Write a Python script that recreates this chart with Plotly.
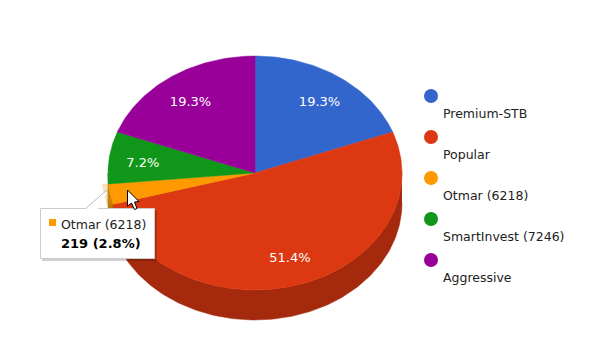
import numpy as np
import plotly.graph_objects as go

categories = ["Premium-STB", "Popular", "Otmar (6218)", "SmartInvest (7246)", "Aggressive"]
values = [1510, 4020, 219, 563, 1509]
colors = ["#3366cc", "#dc3912", "#ff9900", "#109618", "#990099"]
side_colors = ["#264d99", "#a52a0d", "#bf7300", "#0c7012", "#730073"]
percent_labels = ["19.3%", "51.4%", "", "7.2%", "19.3%"]
tooltip_name = "Otmar (6218)"
tooltip_value = "219 (2.8%)"

CX, CY, RX, RY, DEPTH = 255.0, 173.0, 147.0, 117.0, 30.0
LEGEND_X, LEGEND_TEXT_X, LEGEND_TOP, LEGEND_STEP = 431.0, 443.0, 96.0, 41.0
FONT = "DejaVu Sans"


def arc(a0, a1, rx=RX, ry=RY, dy=0.0):
    n = max(2, int(abs(a1 - a0) * 60) + 2)
    t = np.linspace(a0, a1, n)
    return CX + rx * np.sin(t), CY + dy - ry * np.cos(t)


def add_poly(fig, xs, ys, color):
    fig.add_trace(go.Scatter(x=xs, y=ys, mode="lines", fill="toself", fillcolor=color,
                             line=dict(color=color, width=0.5), hoverinfo="skip", showlegend=False))


fig = go.Figure()
total = sum(values)
edges = 2 * np.pi * np.concatenate([[0], np.cumsum(values)]) / total
LOWER0, LOWER1 = np.pi / 2, 3 * np.pi / 2

# pie side, only the front half of the rim is visible
for i in [0, 4, 3, 2, 1]:
    a0, a1 = max(edges[i], LOWER0), min(edges[i + 1], LOWER1)
    if a1 > a0:
        x_top, y_top = arc(a0, a1)
        x_bot, y_bot = arc(a0, a1, dy=DEPTH)
        add_poly(fig, np.r_[x_top, x_bot[::-1]], np.r_[y_top, y_bot[::-1]], side_colors[i])

# highlight ring of the hovered slice
x_out, y_out = arc(edges[2], edges[3], RX + 6, RY + 6)
x_in, y_in = arc(edges[2], edges[3])
add_poly(fig, np.r_[x_out, x_in[::-1]], np.r_[y_out, y_in[::-1]], "rgba(255,153,0,0.3)")

# pie top
for i in range(len(values)):
    x, y = arc(edges[i], edges[i + 1])
    add_poly(fig, np.r_[CX, x, CX], np.r_[CY, y, CY], colors[i])

# percent labels
mid = (edges[:-1] + edges[1:]) / 2
fig.add_trace(go.Scatter(x=CX + 0.77 * RX * np.sin(mid), y=CY - 0.75 * RY * np.cos(mid) + 2,
                         mode="text", text=percent_labels, hoverinfo="skip", showlegend=False,
                         textfont=dict(family=FONT, size=13, color="white")))

# legend
rows = np.arange(len(categories))
fig.add_trace(go.Scatter(x=[LEGEND_X] * len(rows), y=LEGEND_TOP + LEGEND_STEP * rows, mode="markers",
                         marker=dict(size=14, color=colors), hoverinfo="skip", showlegend=False))
fig.add_trace(go.Scatter(x=[LEGEND_TEXT_X] * len(rows), y=LEGEND_TOP + 19 + LEGEND_STEP * rows, mode="text",
                         text=categories, textposition="middle right", hoverinfo="skip", showlegend=False,
                         textfont=dict(family=FONT, size=12.5, color="#222222")))


def sh(path=None, fill="white", line="#cccccc", width=1, **kw):
    d = dict(xref="x", yref="y", layer="above", fillcolor=fill, line=dict(color=line, width=width))
    if path:
        d.update(type="path", path=path)
    d.update(kw)
    return d


shapes = [
    sh(type="rect", x0=42, x1=157, y0=211, y1=261, fill="rgba(0,0,0,0.18)", line="rgba(0,0,0,0)", width=0),
    sh(path="M85,209 L107,190 L97,209 Z", fill="white", line="#bbbbbb"),
    sh(type="rect", x0=40.5, x1=154.5, y0=208.5, y1=258.5, fill="white", line="#cccccc"),
    sh(path="M86,209.5 L106.5,192 L97,209.5 Z", fill="white", line="white"),
    sh(type="rect", x0=49, x1=56, y0=219, y1=226, fill="#ff9900", line="#ff9900", width=0),
    sh(path="M127.5,190 L127.5,206 L131.5,203 L134.5,209.5 L137,208.5 L134.5,202 L139,201.5 Z",
       fill="white", line="black"),
]
annotations = [
    dict(x=58.5, y=224, xref="x", yref="y", text=tooltip_name, showarrow=False, xanchor="left",
         font=dict(family=FONT, size=12.5, color="#222222")),
    dict(x=59, y=243, xref="x", yref="y", text="<b>%s</b>" % tooltip_value, showarrow=False, xanchor="left",
         font=dict(family=FONT, size=13, color="#000000")),
]

fig.update_layout(
    width=596, height=361, autosize=False, margin=dict(l=0, r=0, t=0, b=0),
    paper_bgcolor="white", plot_bgcolor="white", showlegend=False,
    xaxis=dict(range=[0, 596], visible=False, fixedrange=True),
    yaxis=dict(range=[361, 0], visible=False, fixedrange=True),
    shapes=shapes, annotations=annotations, hovermode=False,
)
fig.write_html("out.html", config=dict(displayModeBar=False),
               post_script="document.body.style.margin='0';document.body.style.overflow='hidden';")
